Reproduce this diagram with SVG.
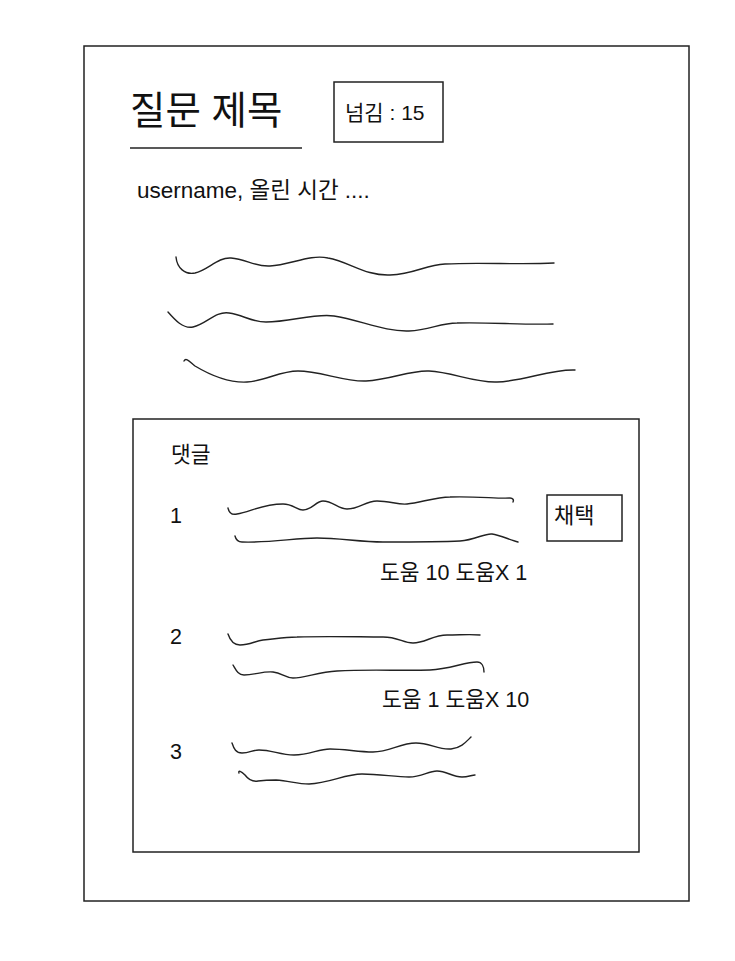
<svg xmlns="http://www.w3.org/2000/svg" width="735" height="961" viewBox="0 0 735 961">
<style>
text{font-family:"Liberation Sans","Noto Sans CJK KR",sans-serif;fill:#111}
.t{font-size:21.5px}
.box{fill:none;stroke:#222;stroke-width:1.5}
.sq{fill:none;stroke:#222;stroke-width:1.4;stroke-linecap:round}
</style>
<rect width="735" height="961" fill="#fff"/>
<g id="page"><rect class="box" x="84" y="46" width="605" height="855"/></g>
<g id="title">
<text x="130" y="124" font-size="38.5">질문 제목</text>
<line x1="130" y1="148" x2="302" y2="148" stroke="#222" stroke-width="1.4"/>
</g>
<g id="skip"><rect class="box" x="334" y="82" width="109" height="60"/><text x="345" y="120" font-size="21">넘김 : 15</text></g>
<g id="meta"><text x="137" y="198" font-size="22.5">username, 올린 시간 ....</text></g>
<g id="body">
<path class="sq" d="M176,257 C177,268 185,275 195,273 C208,270 218,257 231,258 C246,259 255,267 270,266 C290,265 310,254 328,258 C350,262 365,276 390,275 C415,274 425,265 445,264 C480,262 520,265 554,263"/>
<path class="sq" d="M168,312 C175,320 183,329 193,327 C207,324 215,311 229,313 C243,315 252,322 266,322 C290,322 315,313 334,316 C360,320 385,332 409,331 C430,330 440,323 457,323 C490,322 520,325 553,324"/>
<path class="sq" d="M184,361 C186,357 190,362 195,366 C210,375 228,383 247,382 C265,381 280,371 298,371 C320,371 345,382 366,381 C390,380 410,370 429,371 C452,372 475,383 497,382 C525,381 550,369 575,370"/>
</g>
<g id="comments">
<rect class="box" x="133" y="419" width="506" height="433"/>
<text class="t" x="171" y="462">댓글</text>
</g>
<g id="comment1">
<text class="t" x="170" y="523">1</text>
<path class="sq" d="M228,508 C229,513 232,515 237,514 C250,512 262,504 283,504 C293,504 297,510 303,510 C312,510 316,501 323,501 C333,501 338,509 347,509 C360,509 365,501 377,501 C390,501 398,505 407,504 C420,503 435,497 450,497 C475,496 500,499 510,498 C513,498 514,500 513,502"/>
<path class="sq" d="M235,536 C236,540 238,542 242,542 C270,543 295,538 317,538 C340,538 360,542 383,542 C410,542 440,542 460,541 C475,540 485,533 492,534 C500,535 510,540 518,542"/>
<text class="t" x="380" y="580">도움 10 도움X 1</text>
<rect class="box" x="547" y="495" width="75" height="46"/>
<text x="554" y="523" font-size="22">채택</text>
</g>
<g id="comment2">
<text class="t" x="170" y="644">2</text>
<path class="sq" d="M228,634 C230,640 233,645 240,645 C250,645 255,641 263,640 C275,639 283,637 297,637 C330,636 360,637 383,637 C398,637 403,643 413,643 C425,643 433,635 447,635 C460,635 470,634 480,635"/>
<path class="sq" d="M233,665 C236,670 238,675 244,675 C255,675 263,671 273,672 C282,673 285,678 293,678 C305,678 318,672 337,671 C370,669 400,671 430,670 C450,669 465,662 477,662 C482,662 484,667 484,672"/>
<text class="t" x="382" y="707">도움 1 도움X 10</text>
</g>
<g id="comment3">
<text class="t" x="170" y="759">3</text>
<path class="sq" d="M232,743 C234,749 236,753 242,753 C250,753 252,750 259,750 C272,750 280,755 294,755 C310,755 318,749 330,749 C345,749 358,752 373,752 C390,752 400,743 416,743 C430,743 438,750 451,749 C461,748 466,742 471,737"/>
<path class="sq" d="M239,773 C238,770 241,771 245,775 C248,779 252,782 258,781 C266,780 270,780 276,780 C290,781 297,784 309,784 C330,783 345,774 362,774 C380,774 395,777 409,777 C422,777 428,771 437,771 C447,771 452,777 462,777 C468,777 472,775 475,775"/>
</g>
</svg>
